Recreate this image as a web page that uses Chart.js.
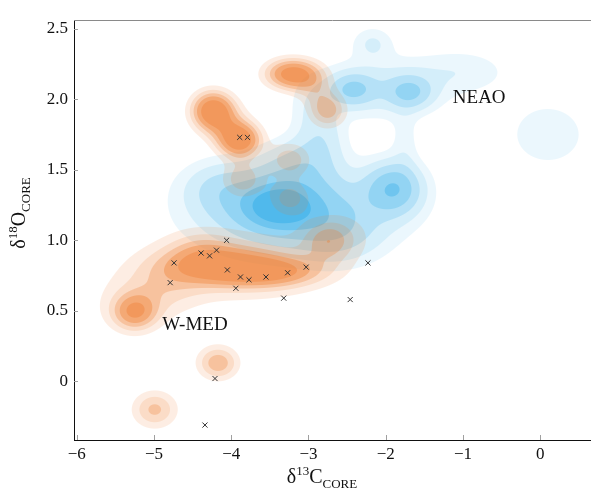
<!DOCTYPE html>
<html>
<head>
<meta charset="utf-8">
<script src="https://cdn.jsdelivr.net/npm/chart.js@4.4.1/dist/chart.umd.min.js"></script>
<style>
html, body { margin: 0; padding: 0; background: #fff; }
#wrap { width: 591px; height: 492px; }
</style>
</head>
<body>
<div id="wrap"><canvas id="mycanvas" width="591" height="492"></canvas></div>
<script>
// core samples (x markers)
var coreD13C = [-4.74, -4.79, -4.39, -4.28, -4.19, -4.06, -4.05, -3.94, -3.88, -3.77,
                -3.55, -3.32, -3.27, -3.03, -2.46, -2.23, -3.89, -3.79, -4.21, -4.34];
var coreD18O = [0.84, 0.70, 0.91, 0.89, 0.93, 1.00, 0.79, 0.66, 0.74, 0.72,
                0.74, 0.59, 0.77, 0.81, 0.58, 0.84, 1.73, 1.73, 0.02, -0.31];

// W-MED density modes: centre, spread, weight
var wmedX  = [-4.15, -3.45, -3.90, -4.40, -2.75, -2.50, -5.25, -5.30, -4.85,
              -4.24, -3.89, -4.05, -3.22, -2.92, -2.75, -3.85, -3.24, -3.24, -4.17, -4.99];
var wmedY  = [0.82, 0.78, 0.82, 0.95, 1.00, 1.05, 0.49, 0.55, 0.70,
              1.92, 1.71, 1.82, 2.18, 2.10, 1.92, 1.43, 1.57, 1.30, 0.13, -0.20];
var wmedSX = [0.45, 0.45, 0.90, 0.30, 0.22, 0.35, 0.20, 0.45, 0.35,
              0.20, 0.20, 0.25, 0.25, 0.20, 0.18, 0.20, 0.20, 0.18, 0.20, 0.22];
var wmedSY = [0.09, 0.075, 0.20, 0.10, 0.10, 0.15, 0.09, 0.18, 0.15,
              0.10, 0.09, 0.12, 0.08, 0.10, 0.09, 0.09, 0.09, 0.08, 0.09, 0.10];
var wmedW  = [0.90, 0.85, 0.55, 0.30, 0.55, 0.25, 0.90, 0.30, 0.30,
              1.40, 1.35, 0.30, 1.30, 0.40, 0.80, 0.65, 0.65, 0.60, 0.85, 0.75];

// NEAO density modes: centre, spread, weight
var neaoX  = [-3.40, -3.30, -3.40, -4.20, -1.90, -1.85, -2.60, -2.90, -3.20, -2.80,
              -2.43, -1.69, -2.05, -2.17, -1.00, -2.95, -1.75, 0.10];
var neaoY  = [1.24, 1.25, 1.20, 1.38, 1.37, 1.30, 1.05, 1.60, 1.55, 1.75,
              2.07, 2.05, 2.08, 2.40, 2.20, 1.95, 1.70, 1.75];
var neaoSX = [0.28, 0.60, 0.85, 0.30, 0.24, 0.35, 0.40, 0.25, 0.30, 0.20,
              0.20, 0.20, 0.55, 0.18, 0.42, 0.20, 0.12, 0.44];
var neaoSY = [0.10, 0.18, 0.22, 0.12, 0.12, 0.18, 0.15, 0.15, 0.12, 0.15,
              0.08, 0.08, 0.15, 0.08, 0.11, 0.15, 0.15, 0.20];
var neaoW  = [0.55, 0.65, 0.25, 0.20, 0.65, 0.12, 0.30, 0.15, 0.20, 0.15,
              0.45, 0.45, 0.25, 0.20, 0.16, 0.15, 0.12, 0.15];

// contour levels
var wmedLevels = [0.30, 0.50, 0.70, 0.90, 1.15];
var neaoLevels = [0.10, 0.20, 0.35, 0.55, 0.80, 1.05];

var xTicks = [-6, -5, -4, -3, -2, -1, 0];
var yTicks = [0, 0.5, 1.0, 1.5, 2.0, 2.5];

var groupNames = ['W-MED', 'NEAO'];
var groupLabelX = [-4.47, -0.79];
var groupLabelY = [0.40, 2.01];

var serif = "'Liberation Serif', 'DejaVu Serif', serif";

var orangeRGB = [238, 120, 40];
var blueRGB = [30, 165, 230];
var orangeAlpha = [0, 0.13, 0.26, 0.45, 0.64, 0.76];
var blueAlpha = [0, 0.09, 0.19, 0.33, 0.48, 0.64, 0.78];

function density(xv, yv, cx, cy, sx, sy, cw) {
    var w = xv.length, h = yv.length;
    var d = new Float32Array(w * h);
    for (var k = 0; k < cx.length; k++) {
        var ex = new Float32Array(w);
        for (var i = 0; i < w; i++) {
            var u = (xv[i] - cx[k]) / sx[k];
            ex[i] = Math.exp(-0.5 * u * u);
        }
        for (var j = 0; j < h; j++) {
            var v = (yv[j] - cy[k]) / sy[k];
            var wy = cw[k] * Math.exp(-0.5 * v * v);
            if (wy < 1e-4) continue;
            var row = j * w;
            for (var i2 = 0; i2 < w; i2++) d[row + i2] += wy * ex[i2];
        }
    }
    return d;
}

function levelAlpha(d, idx, w, levels, table) {
    var c = d[idx];
    var gx = Math.abs(d[idx + 1] - d[idx - 1]) / 2;
    var gy = Math.abs(d[idx + w] - d[idx - w]) / 2;
    var g = Math.sqrt(gx * gx + gy * gy) + 1e-9;
    var lv = 0;
    for (var k = 0; k < levels.length; k++) {
        var t = (c - levels[k]) / g + 0.5;
        lv += t < 0 ? 0 : (t > 1 ? 1 : t);
    }
    var n = Math.floor(lv);
    if (n >= table.length - 1) return table[table.length - 1];
    var f = lv - n;
    return table[n] * (1 - f) + table[n + 1] * f;
}

var kdeImage = null;
var kdePlugin = {
    id: 'kde',
    beforeDatasetsDraw: function(chart) {
        var a = chart.chartArea, xs = chart.scales.x, ys = chart.scales.y;
        var w = Math.round(a.right - a.left), h = Math.round(a.bottom - a.top);
        if (!kdeImage) {
            var xv = [], yv = [];
            for (var i = 0; i < w; i++) xv.push(xs.getValueForPixel(a.left + i + 0.5));
            for (var j = 0; j < h; j++) yv.push(ys.getValueForPixel(a.top + j + 0.5));
            var dB = density(xv, yv, neaoX, neaoY, neaoSX, neaoSY, neaoW);
            var dO = density(xv, yv, wmedX, wmedY, wmedSX, wmedSY, wmedW);
            kdeImage = document.createElement('canvas');
            kdeImage.width = w; kdeImage.height = h;
            var octx = kdeImage.getContext('2d');
            var img = octx.createImageData(w, h);
            for (var y = 1; y < h - 1; y++) {
                for (var x = 1; x < w - 1; x++) {
                    var idx = y * w + x;
                    var r = 255, g = 255, b = 255;
                    var aB = levelAlpha(dB, idx, w, neaoLevels, blueAlpha);
                    r = r * (1 - aB) + blueRGB[0] * aB;
                    g = g * (1 - aB) + blueRGB[1] * aB;
                    b = b * (1 - aB) + blueRGB[2] * aB;
                    var aO = levelAlpha(dO, idx, w, wmedLevels, orangeAlpha);
                    r = r * (1 - aO) + orangeRGB[0] * aO;
                    g = g * (1 - aO) + orangeRGB[1] * aO;
                    b = b * (1 - aO) + orangeRGB[2] * aO;
                    var p = idx * 4;
                    img.data[p] = r; img.data[p + 1] = g; img.data[p + 2] = b; img.data[p + 3] = 255;
                }
            }
            octx.putImageData(img, 0, 0);
        }
        chart.ctx.drawImage(kdeImage, a.left, a.top, w, h);
    }
};

function drawParts(ctx, parts, cx, base) {
    var total = 0;
    parts.forEach(function(p) {
        ctx.font = p[1] + 'px ' + serif;
        p.push(ctx.measureText(p[0]).width);
        total += p[3];
    });
    var x = cx - total / 2;
    ctx.textAlign = 'left';
    ctx.textBaseline = 'alphabetic';
    parts.forEach(function(p) {
        ctx.font = p[1] + 'px ' + serif;
        ctx.fillText(p[0], x, base + p[2]);
        x += p[3];
    });
}

var decorPlugin = {
    id: 'decor',
    afterDraw: function(chart) {
        var ctx = chart.ctx, a = chart.chartArea, xs = chart.scales.x, ys = chart.scales.y;
        ctx.save();
        // top spine
        ctx.strokeStyle = '#8a8a8a';
        ctx.lineWidth = 1;
        ctx.beginPath();
        ctx.moveTo(a.left, a.top + 0.5);
        ctx.lineTo(a.right, a.top + 0.5);
        ctx.stroke();
        // inward ticks
        ctx.strokeStyle = '#a0a0a0';
        ctx.beginPath();
        xTicks.forEach(function(v) {
            var px = Math.round(xs.getPixelForValue(v)) + 0.5;
            ctx.moveTo(px, a.bottom);
            ctx.lineTo(px, a.bottom - 5);
        });
        yTicks.forEach(function(v) {
            var py = Math.round(ys.getPixelForValue(v)) + 0.5;
            ctx.moveTo(a.left, py);
            ctx.lineTo(a.left + 4, py);
        });
        ctx.stroke();
        // group labels
        ctx.fillStyle = '#111';
        ctx.font = '19px ' + serif;
        ctx.textAlign = 'center';
        ctx.textBaseline = 'middle';
        groupNames.forEach(function(t, i) {
            ctx.fillText(t, xs.getPixelForValue(groupLabelX[i]), ys.getPixelForValue(groupLabelY[i]));
        });
        // axis titles
        drawParts(ctx, [['\u03b4', 20, 0], ['13', 13, -8], ['C', 20, 0], ['CORE', 13, 5]], 322, 483);
        ctx.translate(25, 213);
        ctx.rotate(-Math.PI / 2);
        drawParts(ctx, [['\u03b4', 20, 0], ['18', 13, -8], ['O', 20, 0], ['CORE', 13, 5]], 0, 0);
        ctx.restore();
    }
};

function fmtX(v) {
    return (v < 0 ? '\u2212' : '') + Math.abs(v);
}
function fmtY(v) {
    return v === 0 ? '0' : v.toFixed(1);
}

var ctx = document.getElementById('mycanvas');
var chart = new Chart(ctx, {
    type: 'scatter',
    data: {
        datasets: [{
            label: 'core',
            data: coreD13C.map(function(v, i) { return { x: v, y: coreD18O[i] }; }),
            pointStyle: 'crossRot',
            radius: 3.6,
            borderColor: '#333',
            borderWidth: 1
        }]
    },
    options: {
        responsive: false,
        animation: false,
        layout: { autoPadding: false, padding: { top: 20, left: 0, right: 0, bottom: 0 } },
        plugins: { legend: { display: false }, tooltip: { enabled: false } },
        scales: {
            x: {
                type: 'linear',
                min: -6.035,
                max: 0.657,
                afterBuildTicks: function(s) { s.ticks = xTicks.map(function(v) { return { value: v }; }); },
                afterFit: function(s) { s.height = 52; s.paddingLeft = 0; s.paddingRight = 0; },
                grid: { display: false, drawTicks: false },
                border: { display: true, color: '#111', width: 1 },
                ticks: { callback: fmtX, color: '#111', padding: 4, font: { family: serif, size: 17 }, maxRotation: 0 }
            },
            y: {
                type: 'linear',
                min: -0.416,
                max: 2.5625,
                afterBuildTicks: function(s) { s.ticks = yTicks.map(function(v) { return { value: v }; }); },
                afterFit: function(s) { s.width = 74; s.paddingTop = 0; s.paddingBottom = 0; },
                grid: { display: false, drawTicks: false },
                border: { display: true, color: '#111', width: 1 },
                ticks: { callback: fmtY, color: '#111', padding: 6, font: { family: serif, size: 17 } }
            }
        }
    },
    plugins: [kdePlugin, decorPlugin]
});
</script>
</body>
</html>
